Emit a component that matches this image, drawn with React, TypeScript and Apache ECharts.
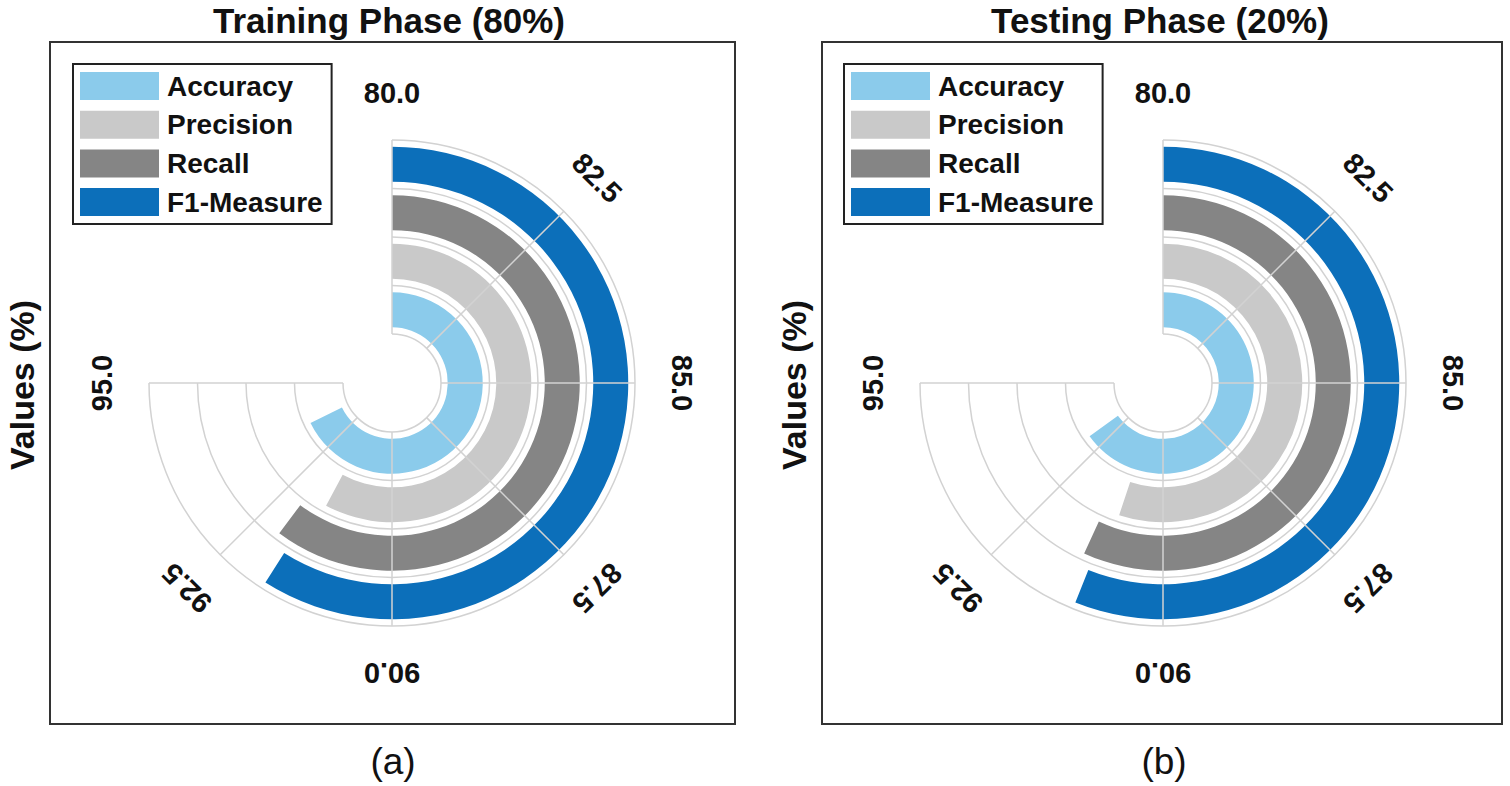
import React, { useEffect, useRef } from 'react';
import * as echarts from 'echarts';

const metrics = ['Accuracy', 'Precision', 'Recall', 'F1-Measure'];
const metricColors = ['#8BCBEB', '#C9C9C9', '#858585', '#0C6FBA'];
const trainingValues = [93.55, 91.57, 92.05, 91.8];
const testingValues = [93.0, 91.02, 91.38, 91.21];
const angleTicks = [80.0, 82.5, 85.0, 87.5, 90.0, 92.5, 95.0];
const panelTitles = ['Training Phase (80%)', 'Testing Phase (20%)'];
const panelCaptions = ['(a)', '(b)'];
const axisName = 'Values (%)';

const ANGLE_MIN = 80;
const ANGLE_MAX = 95;
const ANGLE_STEP = 2.5;
const FULL_TURN = 20; // value units per 360 degrees (15 units span 270 degrees)

const CY = 383;
const R0 = 49;
const R1 = 243;
const LABEL_R = 290;
const GRID = '#D2D2D2';
const FONT = '"Liberation Sans", Arial, Helvetica, sans-serif';

const panels = [
  { cx: 392, box: [50, 42, 735, 724], legendLeft: 73, values: trainingValues },
  { cx: 1163, box: [822, 42, 1502, 724], legendLeft: 844, values: testingValues },
];

export default function App() {
  const ref = useRef<HTMLDivElement>(null);

  useEffect(() => {
    if (!ref.current) return;
    const chart = echarts.init(ref.current, undefined, { renderer: 'svg' });

    const graphics: any[] = [];
    const band = (R1 - R0) / metrics.length;
    panels.forEach((p, pi) => {
      const [x0, y0, x1, y1] = p.box;
      graphics.push({
        type: 'rect',
        shape: { x: x0, y: y0, width: x1 - x0, height: y1 - y0 },
        style: { fill: 'none', stroke: '#333', lineWidth: 2 },
        z: 0,
      });
      // ring boundaries of the radial category bands, over the 270-degree sweep
      for (let i = 0; i <= metrics.length; i++) {
        graphics.push({
          type: 'arc',
          shape: {
            cx: p.cx,
            cy: CY,
            r: R0 + band * i,
            startAngle: -Math.PI / 2,
            endAngle: Math.PI,
            clockwise: true,
          },
          style: { stroke: GRID, lineWidth: 1.5, fill: 'none' },
          z: 5,
        });
      }
      graphics.push({
        type: 'text',
        x: p.cx - 3,
        y: 20,
        style: {
          text: panelTitles[pi],
          font: `bold 35px ${FONT}`,
          fill: '#111',
          align: 'center',
          verticalAlign: 'middle',
        },
      });
      graphics.push({
        type: 'text',
        x: p.cx + 1,
        y: 761,
        style: {
          text: panelCaptions[pi],
          font: `37px ${FONT}`,
          fill: '#111',
          align: 'center',
          verticalAlign: 'middle',
        },
      });
      graphics.push({
        type: 'text',
        x: x0 - 28,
        y: 385,
        rotation: Math.PI / 2,
        style: {
          text: axisName,
          font: `bold 34px ${FONT}`,
          fill: '#111',
          align: 'center',
          verticalAlign: 'middle',
        },
      });
      angleTicks.forEach((t) => {
        const theta = ((t - ANGLE_MIN) / FULL_TURN) * Math.PI * 2;
        graphics.push({
          type: 'text',
          x: p.cx + LABEL_R * Math.sin(theta),
          y: CY - LABEL_R * Math.cos(theta),
          rotation: -theta,
          style: {
            text: t.toFixed(1),
            font: `bold 29px ${FONT}`,
            fill: '#111',
            align: 'center',
            verticalAlign: 'middle',
          },
        });
      });
    });

    const option: any = {
      animation: false,
      backgroundColor: '#fff',
      polar: panels.map((p) => ({ center: [p.cx, CY], radius: [R0, R1] })),
      // angle axis runs in "points above 80" so polar bars start at 80.0
      angleAxis: panels.map((_, i) => ({
        polarIndex: i,
        type: 'value',
        min: 0,
        max: ANGLE_MAX - ANGLE_MIN,
        interval: ANGLE_STEP,
        startAngle: 90,
        endAngle: -180,
        clockwise: true,
        z: 10,
        axisLine: { show: false },
        axisTick: { show: false },
        axisLabel: { show: false },
        splitLine: { show: true, lineStyle: { color: GRID, width: 1.5 } },
      })),
      radiusAxis: panels.map((_, i) => ({
        polarIndex: i,
        type: 'category',
        data: metrics,
        z: 1,
        axisLine: { show: false },
        axisTick: { show: false },
        axisLabel: { show: false },
        splitLine: { show: false },
      })),
      legend: panels.map((p) => ({
        orient: 'vertical',
        left: p.legendLeft,
        top: 64,
        data: metrics,
        icon: 'rect',
        itemWidth: 79,
        itemHeight: 28,
        itemGap: 10.7,
        padding: [8, 9, 8, 7],
        borderColor: '#222',
        borderWidth: 2,
        selectedMode: false,
        textStyle: {
          fontSize: 28,
          fontWeight: 'bold',
          color: '#111',
          fontFamily: FONT,
          padding: [0, 0, 0, 3],
        },
      })),
      series: panels.flatMap((p, pi) =>
        metrics.map((m, mi) => ({
          type: 'bar',
          name: m,
          coordinateSystem: 'polar',
          polarIndex: pi,
          // one shared stack per panel, so every ring gets the same width and position
          stack: 'ring' + pi,
          data: metrics.map((_, k) => (k === mi ? +(p.values[mi] - ANGLE_MIN).toFixed(4) : '-')),
          barWidth: 35,
          itemStyle: { color: metricColors[mi] },
          z: 2,
        }))
      ),
      graphic: graphics,
    };

    chart.setOption(option);
    return () => chart.dispose();
  }, []);

  return (
    <div
      ref={ref}
      style={{ position: 'fixed', left: 0, top: 0, width: 1510, height: 786, background: '#fff' }}
    />
  );
}
